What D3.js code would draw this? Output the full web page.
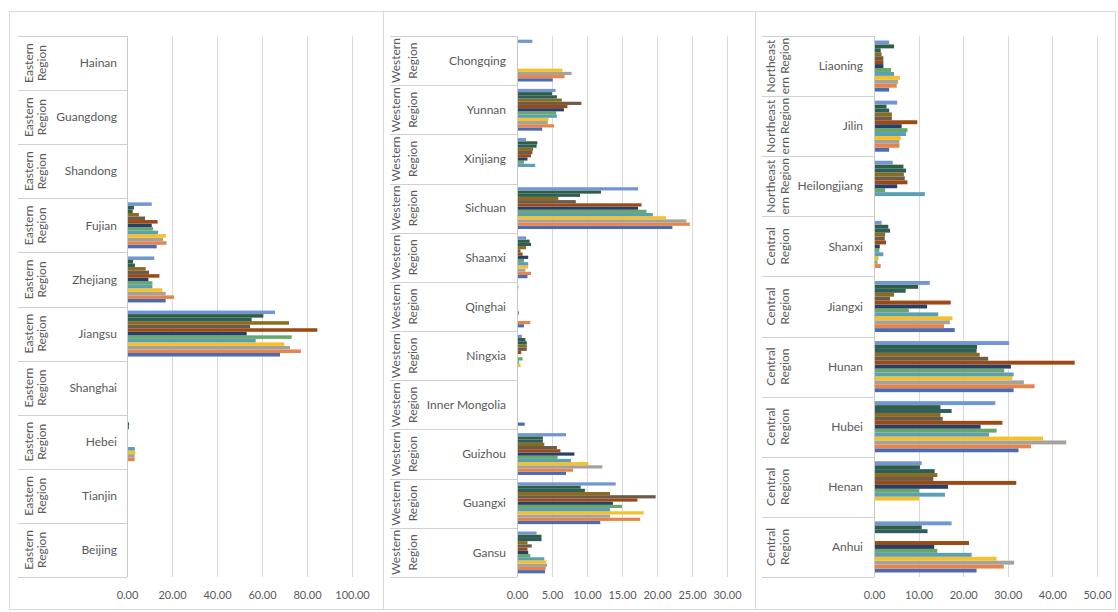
<!DOCTYPE html>
<html>
<head>
<meta charset="utf-8">
<script src="https://cdn.jsdelivr.net/npm/d3@7"></script>
<style>
  body { margin: 0; background: #fff; }
  svg { display: block; }
  text { font-family: Lato, "Open Sans", sans-serif; }
</style>
</head>
<body>
<svg id="chart" width="1118" height="612"></svg>
<script>
// 13 series, listed in plotting order (first series is drawn at the bottom of each group)
const seriesColors = ['#4a6cb5', '#e8844a', '#a5a29c', '#f4c12a', '#5b9fb5', '#66a86a',
    '#26406c', '#9c4a15', '#6e5a48', '#8c6c1c', '#2b5e5c', '#2f5f40', '#7196d2'];

// Eastern panel, provinces top to bottom
const eastProvinces = ['Hainan', 'Guangdong', 'Shandong', 'Fujian', 'Zhejiang', 'Jiangsu',
    'Shanghai', 'Hebei', 'Tianjin', 'Beijing'];
const eastRegions = eastProvinces.map(() => ['Eastern', 'Region']);
const eastValues = [
    [0, 0, 0.4, 0, 0, 0, 0, 0, 0, 0, 0, 0, 0],
    [0, 0, 0, 0, 0, 0, 0, 0, 0, 0, 0, 0, 0],
    [0, 0, 0, 0, 0, 0, 0, 0, 0, 0, 0, 0, 0],
    [13.2, 17.6, 16.0, 17.3, 13.8, 11.6, 11.0, 13.6, 8.0, 5.3, 2.5, 3.1, 11.0],
    [17.2, 20.9, 17.2, 15.7, 11.3, 11.3, 9.5, 14.4, 9.8, 8.3, 3.5, 2.7, 12.1],
    [68.0, 77.3, 72.4, 69.9, 57.2, 73.2, 53.2, 84.6, 54.7, 72.0, 55.4, 60.6, 65.8],
    [0, 0, 0, 0, 0, 0, 0, 0, 0, 0, 0, 0, 0],
    [0.3, 3.4, 3.4, 3.7, 3.5, 0, 0, 0, 0, 0, 0.8, 0.9, 0.4],
    [0, 0, 0, 0, 0, 0, 0, 0, 0, 0, 0, 0, 0],
    [0, 0, 0, 0, 0, 0, 0, 0, 0, 0, 0, 0, 0]
];

// Western panel
const westProvinces = ['Chongqing', 'Yunnan', 'Xinjiang', 'Sichuan', 'Shaanxi', 'Qinghai',
    'Ningxia', 'Inner Mongolia', 'Guizhou', 'Guangxi', 'Gansu'];
const westRegions = westProvinces.map(() => ['Western', 'Region']);
const westValues = [
    [5.1, 6.8, 7.8, 6.5, 0, 0, 0, 0, 0, 0, 0, 0, 2.2],
    [3.6, 5.3, 4.4, 4.5, 5.7, 5.6, 6.7, 7.2, 9.2, 6.4, 5.7, 5.0, 5.5],
    [0, 0, 0, 0, 2.6, 1.0, 1.5, 2.0, 2.2, 2.3, 2.8, 2.9, 1.3],
    [22.2, 24.7, 24.2, 21.3, 19.4, 18.5, 17.3, 17.8, 8.4, 5.9, 9.0, 12.0, 17.3],
    [1.5, 2.0, 1.2, 1.6, 1.6, 1.0, 1.6, 0.8, 0.5, 1.3, 2.0, 1.8, 1.3],
    [1.0, 1.9, 0, 0, 0.3, 0, 0, 0.1, 0.1, 0.1, 0.1, 0.1, 0.2],
    [0, 0, 0, 0.5, 0.3, 0.8, 0, 0.6, 1.4, 1.4, 1.4, 1.2, 0.7],
    [1.1, 0, 0, 0, 0, 0, 0, 0, 0, 0, 0, 0, 0.1],
    [7.0, 8.0, 12.2, 10.2, 7.7, 5.8, 8.2, 6.2, 5.7, 3.9, 3.7, 3.7, 7.0],
    [11.9, 17.6, 13.3, 18.1, 13.3, 15.0, 13.7, 17.2, 19.8, 13.3, 9.7, 9.1, 14.1],
    [4.0, 4.1, 4.3, 4.2, 3.9, 1.9, 1.6, 1.5, 2.1, 1.5, 3.5, 3.5, 2.8]
];

// Northeast + Central panel
const centralProvinces = ['Liaoning', 'Jilin', 'Heilongjiang', 'Shanxi', 'Jiangxi', 'Hunan',
    'Hubei', 'Henan', 'Anhui'];
const centralRegions = [['Northeast', 'ern Region'], ['Northeast', 'ern Region'], ['Northeast', 'ern Region'],
    ['Central', 'Region'], ['Central', 'Region'], ['Central', 'Region'],
    ['Central', 'Region'], ['Central', 'Region'], ['Central', 'Region']];
const centralValues = [
    [3.4, 5.1, 5.4, 5.8, 4.5, 3.8, 2.1, 2.1, 2.1, 1.7, 1.5, 4.5, 3.4],
    [3.4, 5.7, 5.7, 6.0, 7.2, 7.5, 6.2, 9.7, 4.0, 4.0, 3.4, 2.8, 5.2],
    [0, 0, 0, 0, 11.4, 2.5, 5.2, 7.5, 6.9, 6.7, 7.2, 6.6, 4.2],
    [0, 1.5, 0.8, 1.0, 2.1, 1.2, 1.3, 2.7, 2.4, 2.5, 3.6, 3.2, 1.7],
    [18.1, 15.7, 17.0, 17.6, 14.4, 7.8, 11.9, 17.2, 3.6, 4.5, 7.1, 9.9, 12.5],
    [31.3, 36.0, 33.6, 31.0, 31.3, 29.2, 30.7, 45.0, 25.6, 23.7, 23.0, 23.1, 30.3],
    [32.4, 35.2, 43.1, 37.9, 25.8, 27.5, 23.9, 28.8, 15.4, 14.9, 17.4, 14.9, 27.2],
    [0, 0, 0, 10.1, 15.9, 10.1, 16.6, 31.9, 13.3, 14.2, 13.6, 10.3, 10.7],
    [23.0, 29.1, 31.4, 27.5, 21.9, 14.2, 13.5, 21.3, 0, 0, 12.0, 10.7, 17.4]
];

const axisMax = [100, 30, 50];
const tickCounts = [5, 6, 5];

const svg = d3.select('#chart');
const plotTop = 36, plotBottom = 577;

const panels = [
    {provinces: eastProvinces, regions: eastRegions, values: eastValues,
     frame: [9, 11, 374, 598], tableLeft: 18, x0: 127, x1: 352, line1: 29, line2: 42, nameX: 117},
    {provinces: westProvinces, regions: westRegions, values: westValues,
     frame: [383, 11, 372, 598], tableLeft: 390, x0: 517, x1: 727, line1: 396, line2: 413, nameX: 506},
    {provinces: centralProvinces, regions: centralRegions, values: centralValues,
     frame: [755, 11, 360, 598], tableLeft: 762, x0: 874, x1: 1097, line1: 771, line2: 785, nameX: 863}
];

panels.forEach((p, pi) => {
    const g = svg.append('g');

    // panel frame
    g.append('rect')
        .attr('x', p.frame[0] + 0.5).attr('y', p.frame[1] + 0.5)
        .attr('width', p.frame[2]).attr('height', p.frame[3])
        .attr('fill', 'none').attr('stroke', '#d9d9d9');

    const x = d3.scaleLinear().domain([0, axisMax[pi]]).range([p.x0, p.x1]);
    const y = d3.scaleBand().domain(p.provinces).range([plotTop, plotBottom]).padding(0);
    const bw = y.bandwidth();
    const inner = d3.scaleBand()
        .domain(d3.range(seriesColors.length).reverse())
        .range([bw * 0.075, bw * 0.925]);

    // gridlines
    g.selectAll('.grid')
        .data(x.ticks(tickCounts[pi]).filter(d => d > 0))
        .enter().append('line')
        .attr('x1', d => Math.round(x(d)) + 0.5).attr('x2', d => Math.round(x(d)) + 0.5)
        .attr('y1', plotTop).attr('y2', plotBottom)
        .attr('stroke', '#d9d9d9');

    // bars
    const rows = g.selectAll('.row')
        .data(p.provinces)
        .enter().append('g')
        .attr('transform', d => `translate(0,${y(d)})`);

    rows.selectAll('rect')
        .data((d, i) => p.values[i].map((v, s) => ({v, s})))
        .enter().append('rect')
        .attr('x', x(0))
        .attr('y', d => inner(d.s))
        .attr('width', d => x(d.v) - x(0))
        .attr('height', inner.bandwidth())
        .attr('fill', d => seriesColors[d.s]);

    // category table lines
    g.selectAll('.sep')
        .data(d3.range(p.provinces.length + 1))
        .enter().append('line')
        .attr('x1', p.tableLeft).attr('x2', p.x0)
        .attr('y1', i => Math.round(plotTop + i * bw) + 0.5)
        .attr('y2', i => Math.round(plotTop + i * bw) + 0.5)
        .attr('stroke', '#d0d0d0');

    g.append('line')
        .attr('x1', p.x0 + 0.5).attr('x2', p.x0 + 0.5)
        .attr('y1', plotTop).attr('y2', plotBottom)
        .attr('stroke', '#c8c8c8');

    // province names
    rows.append('text')
        .attr('x', p.nameX)
        .attr('y', bw / 2)
        .attr('dy', '0.35em')
        .attr('text-anchor', 'end')
        .attr('fill', '#595959')
        .style('font-size', '12px')
        .text(d => d);

    // region labels (rotated, two lines)
    rows.each(function (d, i) {
        const row = d3.select(this);
        [p.line1, p.line2].forEach((lx, li) => {
            row.append('text')
                .attr('transform', `translate(${lx},${bw / 2}) rotate(-90)`)
                .attr('text-anchor', 'middle')
                .attr('dy', '0.35em')
                .attr('fill', '#595959')
                .style('font-size', '12px')
                .text(p.regions[i][li]);
        });
    });

    // value axis
    const axis = g.append('g')
        .attr('transform', `translate(0,${plotBottom})`)
        .call(d3.axisBottom(x).ticks(tickCounts[pi]).tickSize(0).tickPadding(14).tickFormat(d3.format('.2f')));
    axis.select('.domain').remove();
    axis.selectAll('text')
        .attr('fill', '#595959')
        .style('font-size', '11px')
        .style('font-family', 'Lato, "Open Sans", sans-serif');
});
</script>
</body>
</html>
